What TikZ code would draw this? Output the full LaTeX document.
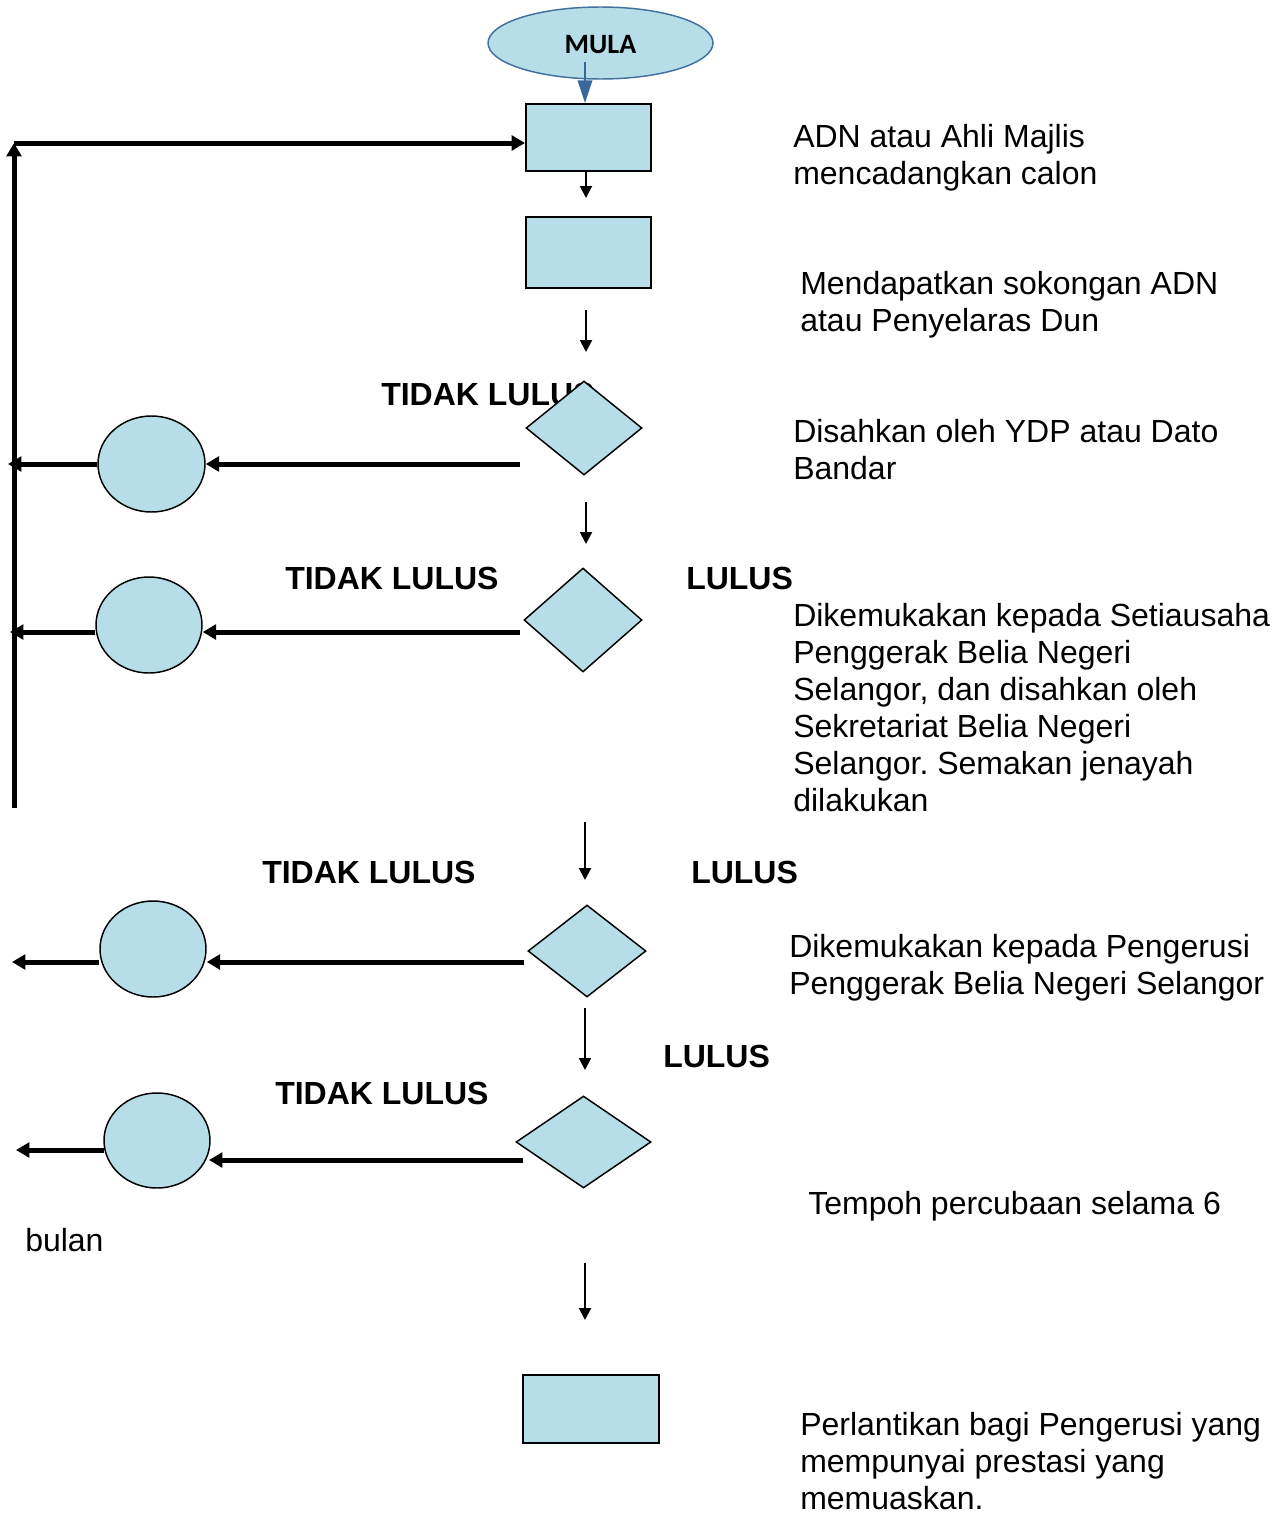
\documentclass[tikz,border=0pt]{standalone}
\usepackage{fontspec}
\setmainfont{Liberation Sans}
\newfontfamily\calibri{Carlito}
\usetikzlibrary{shapes.geometric,arrows.meta}
\definecolor{boxfill}{HTML}{B7DDE8}
\definecolor{startedge}{HTML}{41719C}
\definecolor{startarrow}{HTML}{3A6799}
\frenchspacing
\begin{document}
\begin{tikzpicture}[x=0.75pt,y=-0.75pt,
  lbl/.style={font=\fontsize{24}{27.75}\selectfont, align=left, anchor=north west, inner sep=0pt},
  yn/.style={font=\bfseries\fontsize{24}{28}\selectfont, inner sep=0pt, anchor=base west},
  procbox/.style={draw=black, fill=boxfill, line width=1.5pt, rectangle, inner sep=0pt},
  decide/.style={draw=black, fill=boxfill, line width=1.1pt, diamond, inner sep=0pt},
  stopcirc/.style={draw=black, fill=boxfill, line width=1.1pt, ellipse, inner sep=0pt, minimum width=79.5pt, minimum height=72pt},
  startell/.style={draw=startedge, fill=boxfill, line width=1.1pt, ellipse, inner sep=0pt},
  thinarr/.style={line width=1.5pt, -{Triangle[length=9pt,width=9pt]}},
  thickarr/.style={line width=3.75pt, -{Triangle[length=10pt,width=11pt]}},
  bluearr/.style={draw=startarrow, line width=1.1pt, -{Triangle[length=17pt,width=11pt]}, color=startarrow}
]
\useasboundingbox (0,0) rectangle (1281,1513);

% start
\node[startell, minimum width=168.75pt, minimum height=54pt, text height=16.5pt, text depth=0pt, font=\calibri\bfseries\fontsize{21}{24}\selectfont] (mula) at (600.5,43) {MULA};

% process boxes
\node[procbox, minimum width=93.75pt, minimum height=50.25pt] (b1) at (588.5,137.5) {};
\node[procbox, minimum width=93.75pt, minimum height=53.25pt] (b2) at (588.5,252.5) {};
\node[procbox, minimum width=102pt, minimum height=51pt] (b3) at (591,1409) {};

% labels behind diamonds
\node[yn] (t1) at (381,405.5) {TIDAK LULUS};
\node[yn] (t2) at (285,589.5) {TIDAK LULUS};
\node[yn] (l2) at (686,589.5) {LULUS};
\node[yn] (t3) at (262,883.5) {TIDAK LULUS};
\node[yn] (l3) at (691,883.5) {LULUS};
\node[yn] (l4) at (663,1067.5) {LULUS};
\node[yn] (t4) at (275,1104.5) {TIDAK LULUS};

% decisions
\node[decide, minimum width=87pt, minimum height=70.5pt] (d1) at (584,428) {};
\node[decide, minimum width=88.5pt, minimum height=78pt] (d2) at (583,620) {};
\node[decide, minimum width=88.5pt, minimum height=69pt] (d3) at (587,951) {};
\node[decide, minimum width=101.25pt, minimum height=69pt] (d4) at (583.5,1142) {};

% circles
\node[stopcirc, minimum width=80.25pt] (c1) at (151.5,464) {};
\node[stopcirc] (c2) at (149,625) {};
\node[stopcirc] (c3) at (153,949) {};
\node[stopcirc, minimum height=71.25pt] (c4) at (157,1140.5) {};

% right-hand descriptions
\node[lbl] (n1) at (793,124.5) {ADN atau Ahli Majlis\\mencadangkan calon};
\node[lbl] (n2) at (800,271.5) {Mendapatkan sokongan ADN\\atau Penyelaras Dun};
\node[lbl] (n3) at (793,419.5) {Disahkan oleh YDP atau Dato\\Bandar};
\node[lbl] (n4) at (793,603.5) {Dikemukakan kepada Setiausaha\\Penggerak Belia Negeri\\Selangor, dan disahkan oleh\\Sekretariat Belia Negeri\\Selangor. Semakan jenayah\\dilakukan};
\node[lbl] (n5) at (789,934.5) {Dikemukakan kepada Pengerusi\\Penggerak Belia Negeri Selangor};
\node[lbl] (n6) at (808,1191.5) {Tempoh percubaan selama 6};
\node[lbl] (n7) at (25,1228.5) {bulan};
\node[lbl] (n8) at (800,1412.5) {Perlantikan bagi Pengerusi yang\\mempunyai prestasi yang\\memuaskan.};

% coordinates for free ends
\coordinate (m1) at (585,62);
\coordinate (a1) at (586,198);
\coordinate (a2s) at (586,310);
\coordinate (a2e) at (586,352);
\coordinate (a3s) at (586,502);
\coordinate (a3e) at (586,544);
\coordinate (a4s) at (585,822);
\coordinate (a4e) at (585,880);
\coordinate (a5s) at (585,1008);
\coordinate (a5e) at (585,1070);
\coordinate (a6s) at (585,1263);
\coordinate (a6e) at (585,1320);
\coordinate (loopbot) at (14,808);
\coordinate (looptop) at (14,143);
\coordinate (s1) at (520,464);
\coordinate (e1) at (8,464);
\coordinate (s2) at (520,632);
\coordinate (e2) at (10,632);
\coordinate (s3) at (524,962);
\coordinate (e3) at (12,962);
\coordinate (s4) at (523,1160);
\coordinate (q4) at (209,1160);
\coordinate (f4) at (104,1150);
\coordinate (e4) at (16,1150);

% vertical flow arrows
\draw[bluearr] (m1) -- (m1 |- b1.north);
\draw[thinarr] (b1.south -| a1) -- (a1);
\draw[thinarr] (a2s) -- (a2e);
\draw[thinarr] (a3s) -- (a3e);
\draw[thinarr] (a4s) -- (a4e);
\draw[thinarr] (a5s) -- (a5e);
\draw[thinarr] (a6s) -- (a6e);

% loop back
\draw[thickarr] (loopbot) -- (looptop);
\draw[thickarr] (looptop) -- (b1.west |- looptop);

% rejection branches
\draw[thickarr] (s1) -- (s1 -| c1.east);
\draw[thickarr] (c1.west) -- (e1);
\draw[thickarr] (s2) -- (s2 -| c2.east);
\draw[thickarr] (c2.west |- s2) -- (e2);
\draw[thickarr] (s3) -- (s3 -| c3.east);
\draw[thickarr] (c3.west |- s3) -- (e3);
\draw[thickarr] (s4) -- (q4);
\draw[thickarr] (f4) -- (e4);
\end{tikzpicture}
\end{document}
